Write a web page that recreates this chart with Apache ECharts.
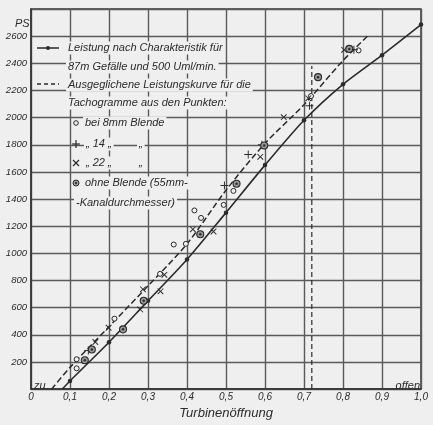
<!DOCTYPE html>
<html><head><meta charset="utf-8">
<script src="https://cdn.jsdelivr.net/npm/echarts@6.0.0/dist/echarts.min.js"></script>
<style>html,body{margin:0;padding:0;background:#efefef}#c{width:433px;height:425px}</style>
</head><body><div id="c"></div>
<script>
// Leistung nach Charakteristik (solid curve with dots)
const charOpening = [0.08, 0.1, 0.2, 0.3, 0.4, 0.5, 0.6, 0.7, 0.8, 0.9, 1.0];
const charPower   = [0, 60, 345, 650, 955, 1300, 1650, 1980, 2245, 2460, 2685];
// Ausgeglichene Leistungskurve (dashed)
const balOpening = [0.053, 0.1, 0.2, 0.3, 0.4, 0.5, 0.6, 0.7, 0.8, 0.865];
const balPower   = [0, 160, 460, 760, 1070, 1465, 1810, 2095, 2420, 2606];
// Tachogramm points
const pts8mm = [[0.117,153],[0.117,220],[0.214,519],[0.331,849],[0.366,1065],[0.397,1070],[0.419,1316],[0.436,1261],[0.494,1357],[0.519,1460],[0.718,2159],[0.84,2495]];
const pts14mm = [[0.147,285],[0.496,1500],[0.557,1728],[0.592,1800],[0.714,2087],[0.828,2500]];
const pts22mm = [[0.165,347],[0.199,452],[0.28,587],[0.287,735],[0.332,720],[0.342,842],[0.415,1177],[0.468,1161],[0.588,1711],[0.648,2003],[0.711,2142],[0.803,2499]];
const ptsOhne = [[0.138,213],[0.156,292],[0.236,440],[0.289,651],[0.434,1141],[0.527,1513],[0.598,1795],[0.736,2298],[0.816,2506]];
// vertical dashed marker
const markerX = [0.72, 0.72];
const markerY = [0, 2380];

const ink = '#2b2b2b';
const bg = '#efefef';
const fontIt = 'italic 11px "Liberation Sans"';
const PLUS = 'path://M-0.6,-5H0.6V-0.6H5V0.6H0.6V5H-0.6V0.6H-5V-0.6H-0.6Z';

const charData = charOpening.map((x, i) => i === 0 ? {value: [x, charPower[i]], symbol: 'none'} : [x, charPower[i]]);
const balData = balOpening.map((x, i) => [x, balPower[i]]);
const markerData = markerX.map((x, i) => [x, markerY[i]]);

const chart = echarts.init(document.getElementById('c'), null, {renderer: 'canvas'});
chart.setOption({
  backgroundColor: bg,
  animation: false,
  grid: {left: 31, right: 12, top: 9, bottom: 26, show: true, borderColor: '#333', borderWidth: 1.5, backgroundColor: 'transparent'},
  xAxis: {
    type: 'value', min: 0, max: 1, interval: 0.1,
    axisLine: {show: true, lineStyle: {color: '#333', width: 1.5}},
    axisTick: {show: false},
    splitLine: {show: true, lineStyle: {color: '#5a5a5a', width: 1.4}},
    axisLabel: {color: ink, fontFamily: 'Liberation Sans', fontStyle: 'italic', fontSize: 10, margin: 3,
      formatter: v => v === 0 ? '0' : v.toFixed(1).replace('.', ',')},
    name: 'Turbinenöffnung', nameLocation: 'middle', nameGap: 13,
    nameTextStyle: {color: ink, fontFamily: 'Liberation Sans', fontStyle: 'italic', fontSize: 13}
  },
  yAxis: {
    type: 'value', min: 0, max: 2800, interval: 200,
    axisLine: {show: true, lineStyle: {color: '#333', width: 1.5}},
    axisTick: {show: false},
    splitLine: {show: true, lineStyle: {color: '#5a5a5a', width: 1.4}},
    axisLabel: {color: ink, fontFamily: 'Liberation Sans', fontStyle: 'italic', fontSize: 9.5, margin: 4,
      formatter: v => (v === 0 || v === 2800) ? '' : String(v)}
  },
  series: [
    {type: 'line', data: charData, smooth: 0.25, symbol: 'circle', symbolSize: 4.5,
      itemStyle: {color: ink}, lineStyle: {color: ink, width: 1.6}, z: 5},
    {type: 'line', data: balData, smooth: 0.3, symbol: 'none',
      lineStyle: {color: ink, width: 1.5, type: [6, 3]}, z: 5},
    {type: 'line', data: markerData, symbol: 'none',
      lineStyle: {color: ink, width: 1.2, type: [5, 3]}, z: 4},
    {type: 'scatter', data: pts8mm, symbol: 'circle', symbolSize: 5,
      itemStyle: {color: bg, borderColor: ink, borderWidth: 1, opacity: 1}, z: 6},
    {type: 'scatter', data: pts14mm, symbol: PLUS, symbolSize: 8,
      itemStyle: {color: ink, opacity: 1}, z: 6},
    {type: 'scatter', data: pts22mm, symbol: PLUS, symbolSize: 8, symbolRotate: 45,
      itemStyle: {color: ink, opacity: 1}, z: 6},
    {type: 'scatter', data: ptsOhne, symbol: 'circle', symbolSize: 7,
      itemStyle: {color: '#9a9a9a', borderColor: ink, borderWidth: 1.1, opacity: 1}, z: 6},
    {type: 'scatter', data: ptsOhne, symbol: 'circle', symbolSize: 2.5,
      itemStyle: {color: ink, opacity: 1}, z: 7, silent: true}
  ],
  graphic: [
    {type: 'text', left: 15, top: 18, z: 10, style: {text: 'PS', font: 'italic 11px "Liberation Sans"', fill: ink}},
    {type: 'text', left: 34, top: 380, z: 10, style: {text: 'zu', font: 'italic 11px "Liberation Sans"', fill: ink}},
    {type: 'text', right: 13, top: 380, z: 10, style: {text: 'offen', font: 'italic 11px "Liberation Sans"', fill: ink}},
    // legend block
    {type: 'line', shape: {x1: 37, y1: 48, x2: 59, y2: 48}, style: {stroke: ink, lineWidth: 1.5}, z: 10},
    {type: 'circle', shape: {cx: 48, cy: 48, r: 2}, style: {fill: ink}, z: 10},
    {type: 'line', shape: {x1: 37, y1: 84, x2: 59, y2: 84}, style: {stroke: ink, lineWidth: 1.5, lineDash: [4, 3]}, z: 10},
    {type: 'text', x: 66, y: 48, z: 10, style: {text: 'Leistung nach Charakteristik für', font: fontIt, fill: ink, verticalAlign: 'middle', backgroundColor: bg, padding: [1, 2]}},
    {type: 'text', x: 66, y: 67, z: 10, style: {text: '87m Gefälle und 500 Uml/min.', font: fontIt, fill: ink, verticalAlign: 'middle', backgroundColor: bg, padding: [1, 2]}},
    {type: 'text', x: 66, y: 85, z: 10, style: {text: 'Ausgeglichene Leistungskurve für die', font: fontIt, fill: ink, verticalAlign: 'middle', backgroundColor: bg, padding: [1, 2]}},
    {type: 'text', x: 66, y: 103, z: 10, style: {text: 'Tachogramme aus den Punkten:', font: fontIt, fill: ink, verticalAlign: 'middle', backgroundColor: bg, padding: [1, 2]}},
    {type: 'circle', shape: {cx: 76, cy: 123, r: 2.3}, style: {fill: bg, stroke: ink, lineWidth: 1}, z: 10},
    {type: 'text', x: 83, y: 123, z: 10, style: {text: 'bei 8mm Blende', font: fontIt, fill: ink, verticalAlign: 'middle', backgroundColor: bg, padding: [1, 2]}},
    {type: 'line', shape: {x1: 72, y1: 144, x2: 80, y2: 144}, style: {stroke: ink, lineWidth: 1.2}, z: 10},
    {type: 'line', shape: {x1: 76, y1: 140, x2: 76, y2: 148}, style: {stroke: ink, lineWidth: 1.2}, z: 10},
    {type: 'text', x: 84, y: 144, z: 10, style: {text: '„ 14 „', font: fontIt, fill: ink, verticalAlign: 'middle', backgroundColor: bg, padding: [1, 2]}},
    {type: 'text', x: 137, y: 144, z: 10, style: {text: '„', font: fontIt, fill: ink, verticalAlign: 'middle', backgroundColor: bg, padding: [1, 2]}},
    {type: 'line', shape: {x1: 73, y1: 160, x2: 79, y2: 166}, style: {stroke: ink, lineWidth: 1.2}, z: 10},
    {type: 'line', shape: {x1: 79, y1: 160, x2: 73, y2: 166}, style: {stroke: ink, lineWidth: 1.2}, z: 10},
    {type: 'text', x: 84, y: 163, z: 10, style: {text: '„ 22 „', font: fontIt, fill: ink, verticalAlign: 'middle', backgroundColor: bg, padding: [1, 2]}},
    {type: 'text', x: 137, y: 163, z: 10, style: {text: '„', font: fontIt, fill: ink, verticalAlign: 'middle', backgroundColor: bg, padding: [1, 2]}},
    {type: 'circle', shape: {cx: 76, cy: 183, r: 3}, style: {fill: '#9a9a9a', stroke: ink, lineWidth: 1}, z: 10},
    {type: 'circle', shape: {cx: 76, cy: 183, r: 1.1}, style: {fill: ink}, z: 11},
    {type: 'text', x: 83, y: 183, z: 10, style: {text: 'ohne Blende (55mm-', font: fontIt, fill: ink, verticalAlign: 'middle', backgroundColor: bg, padding: [1, 2]}},
    {type: 'text', x: 74, y: 203, z: 10, style: {text: '-Kanaldurchmesser)', font: fontIt, fill: ink, verticalAlign: 'middle', backgroundColor: bg, padding: [1, 2]}}
  ]
});
</script>
</body></html>
